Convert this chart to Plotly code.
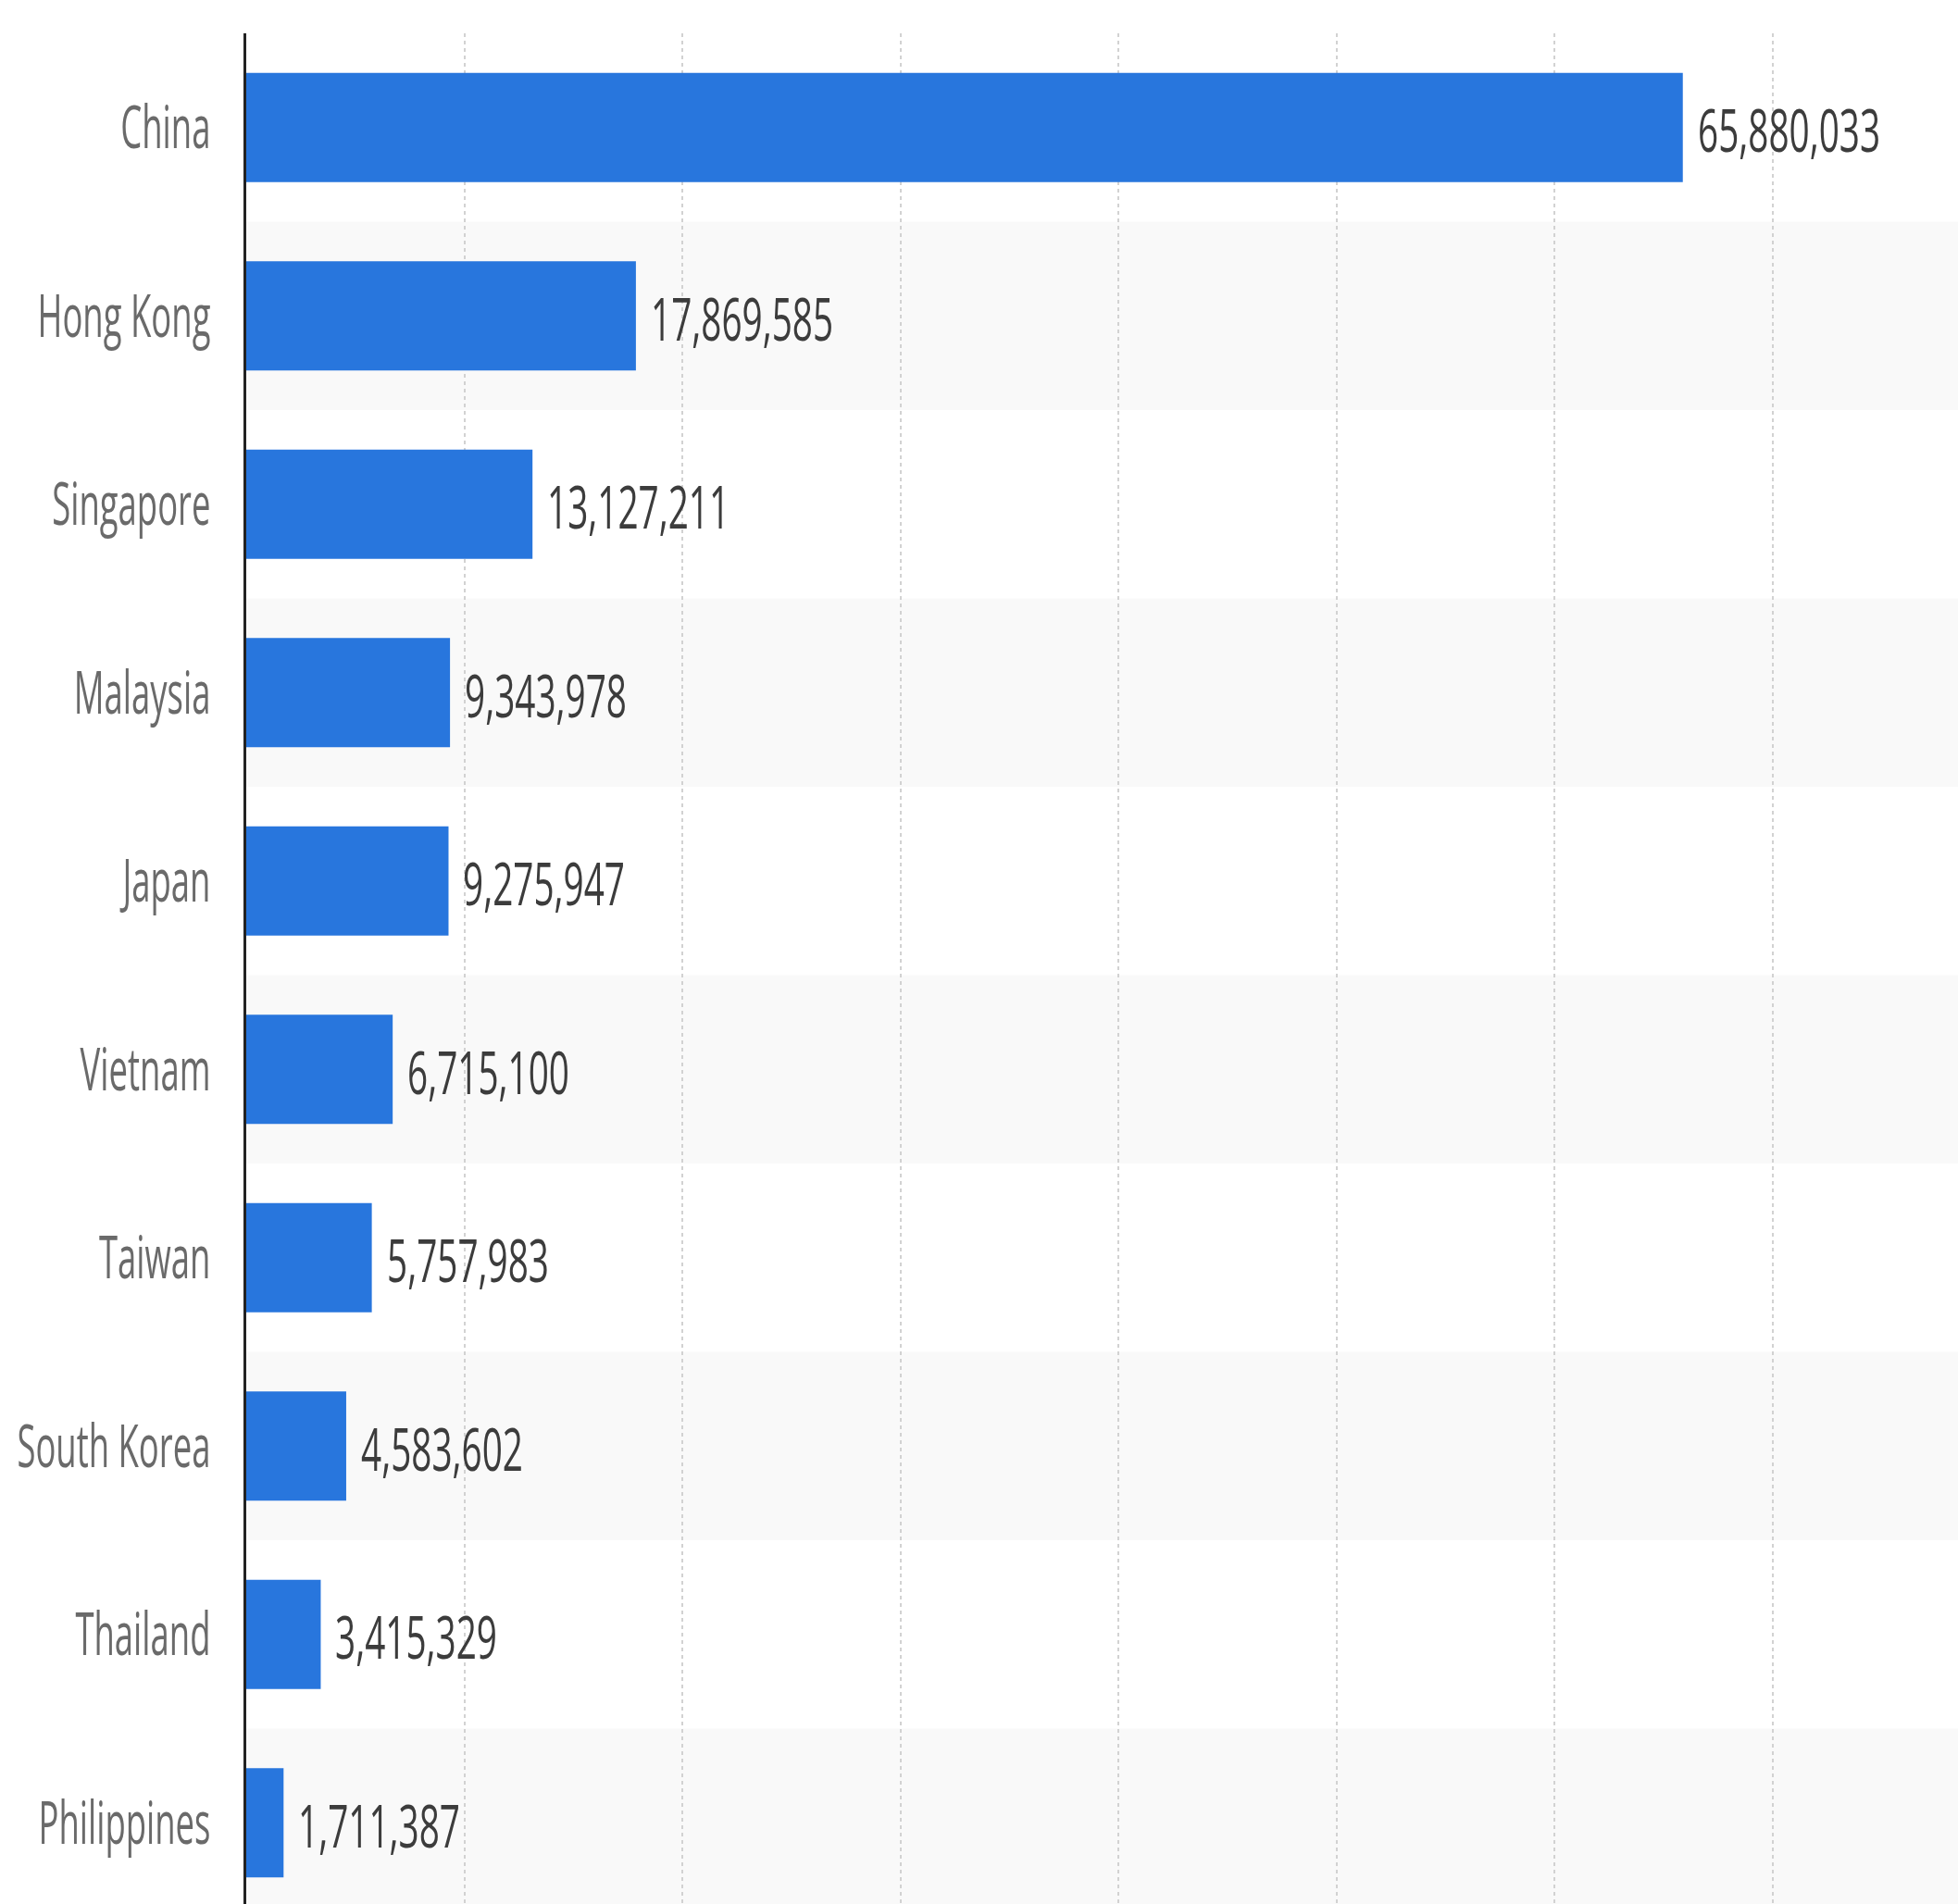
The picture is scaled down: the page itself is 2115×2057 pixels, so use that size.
import plotly.graph_objects as go

# Countries, top to bottom, and their values
countries = ["China", "Hong Kong", "Singapore", "Malaysia", "Japan",
             "Vietnam", "Taiwan", "South Korea", "Thailand", "Philippines"]
values = [65880033, 17869585, 13127211, 9343978, 9275947,
          6715100, 5757983, 4583602, 3415329, 1711387]

BAR_COLOR = "#2876DD"
BAND_COLOR = "#F9F9F9"
FONT = "Open Sans, Noto Sans, sans-serif"

fig = go.Figure()
fig.add_trace(go.Bar(
    x=values,
    y=countries,
    orientation="h",
    marker=dict(color=BAR_COLOR, line=dict(width=0)),
    width=0.58,
    hoverinfo="skip",
))

# Alternating row bands behind the bars
shapes = []
for i in range(len(countries)):
    if i % 2 == 1:
        shapes.append(dict(
            type="rect", xref="paper", yref="y",
            x0=0, x1=1, y0=i - 0.5, y1=i + 0.5,
            fillcolor=BAND_COLOR, line=dict(width=0), layer="below",
        ))

# Value labels to the right of each bar
annotations = []
for c, v in zip(countries, values):
    annotations.append(dict(
        x=v, y=c, xref="x", yref="y",
        text=f"{v:,}", showarrow=False,
        xanchor="left", yanchor="middle", xshift=14, yshift=-2,
        font=dict(family=FONT, size=64, color="#3C3C3C"),
    ))

fig.update_layout(
    width=2115, height=2057,
    margin=dict(l=266, r=0, t=36, b=0),
    paper_bgcolor="white", plot_bgcolor="white",
    showlegend=False,
    shapes=shapes,
    annotations=annotations,
    bargap=0.42,
)

fig.update_xaxes(
    range=[0, 78.5e6], dtick=1e7, tick0=0,
    showticklabels=False, ticks="",
    showgrid=True, gridcolor="#D2D2D2", gridwidth=1.5, griddash="4px,4px",
    zeroline=False, showline=False,
)
fig.update_yaxes(
    categoryorder="array", categoryarray=countries,
    range=[9.431, -0.5],
    automargin=False,
    showgrid=False, zeroline=False,
    showline=True, linecolor="#222222", linewidth=2.5,
    ticks="", ticklabelstandoff=23,
    tickfont=dict(family=FONT, size=64, color="#6A6A6A"),
)

# Condensed lettering: squeeze each label horizontally about its anchored edge
condense_js = """
var gd = document.getElementById('{plot_id}');
function squeeze(sel, s, edge) {
  gd.querySelectorAll(sel).forEach(function (t) {
    var bb = t.getBBox();
    var ax = edge === 'right' ? bb.x + bb.width : bb.x;
    var prev = t.getAttribute('transform') || '';
    t.setAttribute('transform', prev + ' translate(' + ax + ',0) scale(' + s + ',1) translate(' + (-ax) + ',0)');
  });
}
squeeze('.ytick text', 0.57, 'right');
squeeze('.annotation-text', 0.605, 'left');
"""

fig.write_html("out.html", post_script=condense_js)
